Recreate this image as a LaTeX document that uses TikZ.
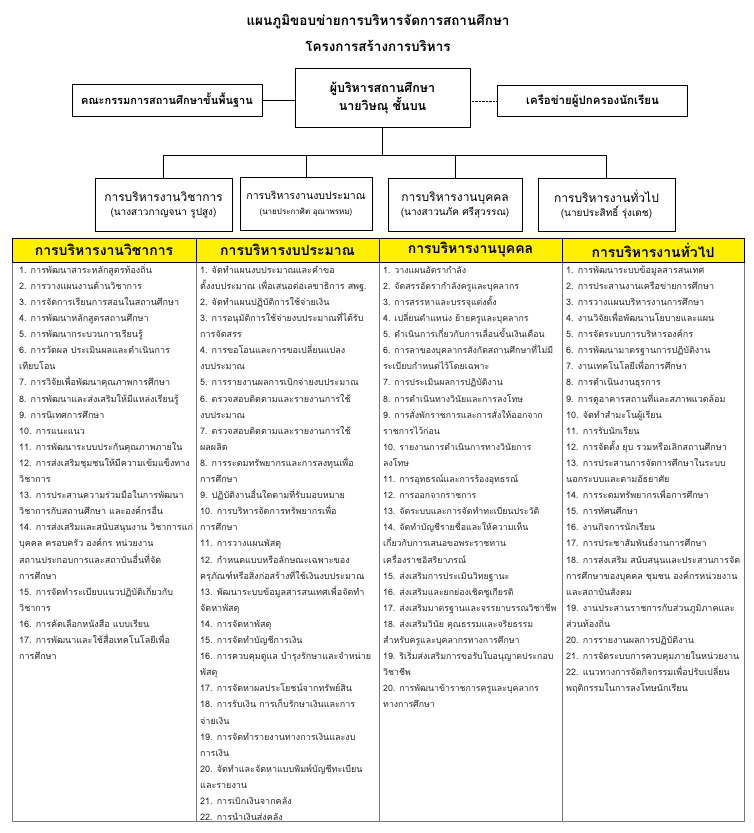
\documentclass[tikz,border=0pt]{standalone}
\usepackage{fontspec}
\setmainfont[Script=Thai]{Loma}
\usetikzlibrary{calc}
\definecolor{hdryellow}{RGB}{255,240,0}
\definecolor{gridgray}{RGB}{120,120,120}

\begin{document}
\begin{tikzpicture}[x=1pt,y=-1pt,
  topbox/.style={draw,thick,align=center,inner sep=2pt},
  unitbox/.style={draw,thick,align=center,minimum height=53pt,inner sep=2pt},
  hdrcell/.style={draw,fill=hdryellow,minimum height=24pt,inner sep=0pt,font=\fontsize{14}{16}\selectfont\bfseries},
  listtxt/.style={anchor=north west,align=left,inner sep=0pt,text=black!85,font=\fontsize{9}{16.1}\selectfont}]
\useasboundingbox (0,0) rectangle (754,833);

    \node (title) at (378,22) {\fontsize{13.5}{18}\selectfont\bfseries แผนภูมิขอบข่ายการบริหารจัดการสถานศึกษา};
    \node (subtitle) at (378,46) {\fontsize{13.5}{18}\selectfont\bfseries โครงการสร้างการบริหาร};

    \node[topbox,minimum width=175pt,minimum height=59pt,font=\fontsize{12.5}{18}\selectfont\bfseries] (head) at (382.5,98) {ผู้บริหารสถานศึกษา\\นายวิษณุ ชั้นบน};
    \node[topbox,minimum width=190pt,minimum height=32pt,font=\fontsize{11}{14}\selectfont\bfseries] (board) at (167,100) {คณะกรรมการสถานศึกษาขั้นพื้นฐาน};
    \node[topbox,minimum width=190pt,minimum height=31pt,font=\fontsize{11.5}{14}\selectfont\bfseries] (parents) at (592.5,101) {เครือข่ายผู้ปกครองนักเรียน};
    \draw (board.east) -- (board.east -| head.west);
    \draw[densely dotted] (parents.west -| head.east) -- (parents.west);

    \node[unitbox,minimum width=137pt] (acad) at (163.5,204.5) {\fontsize{12}{18}\selectfont การบริหารงานวิชาการ\\[2pt]\fontsize{10}{12}\selectfont(นางสาวกาญจนา รูปสูง)};
    \node[unitbox,minimum width=132pt] (budget) at (306,204) {\fontsize{10.5}{15}\selectfont การบริหารงานงบประมาณ\\[3pt]\fontsize{8}{10}\selectfont(นายประกาศิต อุณาพรหม)};
    \node[unitbox,minimum width=134pt] (staff) at (455,204.5) {\fontsize{12}{18}\selectfont การบริหารงานบุคคล\\[2pt]\fontsize{10}{12}\selectfont(นางสาวนภัค ศรีสุวรรณ)};
    \node[unitbox,minimum width=137pt] (general) at (606.5,204.5) {\fontsize{12}{18}\selectfont การบริหารงานทั่วไป\\[2pt]\fontsize{10}{12}\selectfont(นายประสิทธิ์ รุ่งเดช)};

    \coordinate (bar) at (0,155);
    \draw (head.south) -- (head.south |- bar);
    \draw (acad.north |- bar) -- (general.north |- bar);
    \foreach \u in {acad,budget,staff,general}
      \draw (\u.north |- bar) -- (\u.north);

    % table
    \draw[gridgray,thick] (12,262) rectangle (744,821);
    \draw[gridgray,thick] (196,262) -- (196,821) (379,262) -- (379,821) (562,262) -- (562,821);
    \node[hdrcell,minimum width=184pt] (acadHdr) at (104,250) {การบริหารงานวิชาการ};
    \node[hdrcell,minimum width=183pt] (budgetHdr) at (287.5,250) {การบริหารงบประมาณ};
    \node[hdrcell,minimum width=183pt] (staffHdr) at (470.5,250) {การบริหารงานบุคคล};
    \node[hdrcell,minimum width=182pt] (generalHdr) at (653,250) {การบริหารงานทั่วไป};

    \node[listtxt] (acadList) at (19,262) {\rule{0pt}{11pt}1. การพัฒนาสาระหลักสูตรท้องถิ่น\\
2. การวางแผนงานด้านวิชาการ\\
3. การจัดการเรียนการสอนในสถานศึกษา\\
4. การพัฒนาหลักสูตรสถานศึกษา\\
5. การพัฒนากระบวนการเรียนรู้\\
6. การวัดผล ประเมินผลและดำเนินการ\\
เทียบโอน\\
7. การวิจัยเพื่อพัฒนาคุณภาพการศึกษา\\
8. การพัฒนาและส่งเสริมให้มีแหล่งเรียนรู้\\
9. การนิเทศการศึกษา\\
10. การแนะแนว\\
11. การพัฒนาระบบประกันคุณภาพภายใน\\
12. การส่งเสริมชุมชนให้มีความเข้มแข็งทาง\\
วิชาการ\\
13. การประสานความร่วมมือในการพัฒนา\\
วิชาการกับสถานศึกษา และองค์กรอื่น\\
14. การส่งเสริมและสนับสนุนงาน วิชาการแก่\\
บุคคล ครอบครัว องค์กร หน่วยงาน\\
สถานประกอบการและสถาบันอื่นที่จัด\\
การศึกษา\\
15. การจัดทำระเบียบแนวปฏิบัติเกี่ยวกับ\\
วิชาการ\\
16. การคัดเลือกหนังสือ แบบเรียน\\
17. การพัฒนาและใช้สื่อเทคโนโลยีเพื่อ\\
การศึกษา};

    \node[listtxt] (budgetList) at (200,262) {\rule{0pt}{11pt}1. จัดทำแผนงบประมาณและคำขอ\\
ตั้งงบประมาณ เพื่อเสนอต่อเลขาธิการ สพฐ.\\
2. จัดทำแผนปฏิบัติการใช้จ่ายเงิน\\
3. การอนุมัติการใช้จ่ายงบประมาณที่ได้รับ\\
การจัดสรร\\
4. การขอโอนและการขอเปลี่ยนแปลง\\
งบประมาณ\\
5. การรายงานผลการเบิกจ่ายงบประมาณ\\
6. ตรวจสอบติดตามและรายงานการใช้\\
งบประมาณ\\
7. ตรวจสอบติดตามและรายงานการใช้\\
ผลผลิต\\
8. การระดมทรัพยากรและการลงทุนเพื่อ\\
การศึกษา\\
9. ปฏิบัติงานอื่นใดตามที่รับมอบหมาย\\
10. การบริหารจัดการทรัพยากรเพื่อ\\
การศึกษา\\
11. การวางแผนพัสดุ\\
12. กำหนดแบบหรือลักษณะเฉพาะของ\\
ครุภัณฑ์หรือสิ่งก่อสร้างที่ใช้เงินงบประมาณ\\
13. พัฒนาระบบข้อมูลสารสนเทศเพื่อจัดทำ\\
จัดหาพัสดุ\\
14. การจัดหาพัสดุ\\
15. การจัดทำบัญชีการเงิน\\
16. การควบคุมดูแล บำรุงรักษาและจำหน่าย\\
พัสดุ\\
17. การจัดหาผลประโยชน์จากทรัพย์สิน\\
18. การรับเงิน การเก็บรักษาเงินและการ\\
จ่ายเงิน\\
19. การจัดทำรายงานทางการเงินและงบ\\
การเงิน\\
20. จัดทำและจัดหาแบบพิมพ์บัญชีทะเบียน\\
และรายงาน\\
21. การเบิกเงินจากคลัง\\
22. การนำเงินส่งคลัง};

    \node[listtxt,font=\fontsize{8.8}{16.1}\selectfont] (staffList) at (383,262) {\rule{0pt}{11pt}1. วางแผนอัตรากำลัง\\
2. จัดสรรอัตรากำลังครูและบุคลากร\\
3. การสรรหาและบรรจุแต่งตั้ง\\
4. เปลี่ยนตำแหน่ง ย้ายครูและบุคลากร\\
5. ดำเนินการเกี่ยวกับการเลื่อนขั้นเงินเดือน\\
6. การลาของบุคลากรสังกัดสถานศึกษาที่ไม่มี\\
ระเบียบกำหนดไว้โดยเฉพาะ\\
7. การประเมินผลการปฏิบัติงาน\\
8. การดำเนินทางวินัยและการลงโทษ\\
9. การสั่งพักราชการและการสั่งให้ออกจาก\\
ราชการไว้ก่อน\\
10. รายงานการดำเนินการทางวินัยการ\\
ลงโทษ\\
11. การอุทธรณ์และการร้องอุทธรณ์\\
12. การออกจากราชการ\\
13. จัดระบบและการจัดทำทะเบียนประวัติ\\
14. จัดทำบัญชีรายชื่อและให้ความเห็น\\
เกี่ยวกับการเสนอขอพระราชทาน\\
เครื่องราชอิสริยาภรณ์\\
15. ส่งเสริมการประเมินวิทยฐานะ\\
16. ส่งเสริมและยกย่องเชิดชูเกียรติ\\
17. ส่งเสริมมาตรฐานและจรรยาบรรณวิชาชีพ\\
18. ส่งเสริมวินัย คุณธรรมและจริยธรรม\\
สำหรับครูและบุคลากรทางการศึกษา\\
19. ริเริ่มส่งเสริมการขอรับใบอนุญาตประกอบ\\
วิชาชีพ\\
20. การพัฒนาข้าราชการครูและบุคลากร\\
ทางการศึกษา};

    \node[listtxt] (generalList) at (566,262) {\rule{0pt}{11pt}1. การพัฒนาระบบข้อมูลสารสนเทศ\\
2. การประสานงานเครือข่ายการศึกษา\\
3. การวางแผนบริหารงานการศึกษา\\
4. งานวิจัยเพื่อพัฒนานโยบายและแผน\\
5. การจัดระบบการบริหารองค์กร\\
6. การพัฒนามาตรฐานการปฏิบัติงาน\\
7. งานเทคโนโลยีเพื่อการศึกษา\\
8. การดำเนินงานธุรการ\\
9. การดูอาคารสถานที่และสภาพแวดล้อม\\
10. จัดทำสำมะโนผู้เรียน\\
11. การรับนักเรียน\\
12. การจัดตั้ง ยุบ รวมหรือเลิกสถานศึกษา\\
13. การประสานการจัดการศึกษาในระบบ\\
นอกระบบและตามอัธยาศัย\\
14. การระดมทรัพยากรเพื่อการศึกษา\\
15. การทัศนศึกษา\\
16. งานกิจการนักเรียน\\
17. การประชาสัมพันธ์งานการศึกษา\\
18. การส่งเสริม สนับสนุนและประสานการจัด\\
การศึกษาของบุคคล ชุมชน องค์กรหน่วยงาน\\
และสถาบันสังคม\\
19. งานประสานราชการกับส่วนภูมิภาคและ\\
ส่วนท้องถิ่น\\
20. การรายงานผลการปฏิบัติงาน\\
21. การจัดระบบการควบคุมภายในหน่วยงาน\\
22. แนวทางการจัดกิจกรรมเพื่อปรับเปลี่ยน\\
พฤติกรรมในการลงโทษนักเรียน};

\end{tikzpicture}
\end{document}
